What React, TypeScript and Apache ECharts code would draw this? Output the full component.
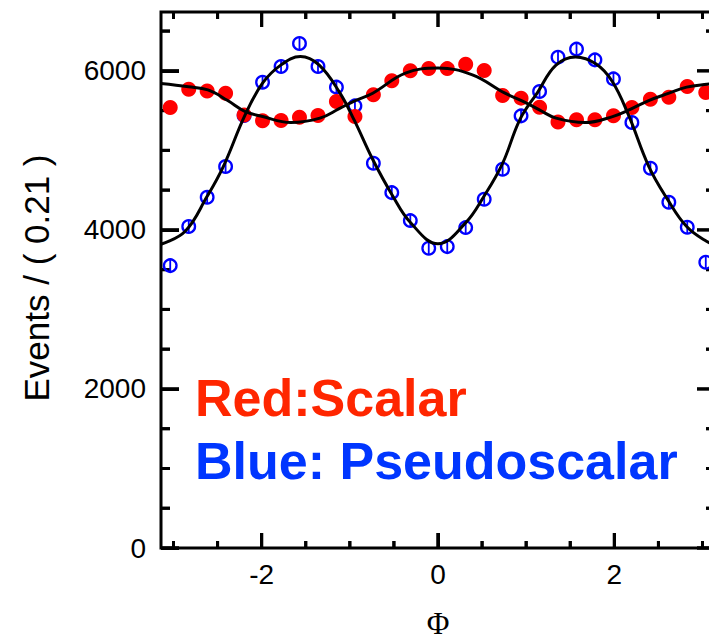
import React, { useEffect, useRef } from "react";
import * as echarts from "echarts";

// Bin centres (30 bins of width 0.21 over [-pi, pi])
const phiBins = [
  -3.037, -2.827, -2.618, -2.409, -2.199, -1.99, -1.78, -1.571, -1.361, -1.152,
  -0.942, -0.733, -0.524, -0.314, -0.105, 0.105, 0.314, 0.524, 0.733, 0.942,
  1.152, 1.361, 1.571, 1.78, 1.99, 2.199, 2.409, 2.618, 2.827, 3.037,
];

// Red: scalar
const scalarCounts = [
  5538, 5769, 5748, 5719, 5446, 5371, 5375, 5417, 5438, 5614,
  5425, 5698, 5874, 6000, 6030, 6028, 6084, 6004, 5690, 5657,
  5543, 5358, 5384, 5384, 5434, 5538, 5644, 5669, 5803, 5727,
];

// Blue: pseudoscalar
const pseudoCounts = [
  3551, 4042, 4411, 4797, 5438, 5857, 6055, 6344, 6055, 5795,
  5560, 4839, 4469, 4117, 3770, 3790, 4029, 4386, 4763, 5434,
  5740, 6172, 6273, 6138, 5899, 5350, 4775, 4348, 4034, 3594,
];

const binError = 75;

// Fit curves
const scalarFitPhi = [
  -3.1416, -2.83, -2.61, -2.39, -2.19, -1.99, -1.67, -1.34, -1.12, -0.95, -0.74,
  -0.37, 0, 0.39, 0.76, 0.97, 1.15, 1.34, 1.67, 1.98, 2.16, 2.39, 2.62, 2.82, 3.05, 3.1416,
];
const scalarFitVal = [
  5840, 5800, 5760, 5630, 5490, 5425, 5350, 5405, 5525, 5620, 5719,
  5971, 6035, 5950, 5719, 5614, 5509, 5405, 5350, 5425, 5505, 5627, 5719, 5795, 5832, 5840,
];

const pseudoFitPhi = [
  -3.1416, -2.87, -2.62, -2.435, -2.19, -1.99, -1.78, -1.56, -1.35, -1.12, -0.95,
  -0.74, -0.52, -0.31, 0, 0.31, 0.52, 0.73, 0.93, 1.13, 1.335, 1.56, 1.79, 1.975,
  2.16, 2.39, 2.6, 2.82, 3.05, 3.1416,
];
const pseudoFitVal = [
  3820, 3979, 4419, 4797, 5440, 5845, 6075, 6180, 6075, 5735, 5380,
  4885, 4440, 4090, 3825, 4085, 4420, 4830, 5390, 5730, 6070, 6175, 6090, 5870,
  5446, 4800, 4390, 4042, 3853, 3820,
];

const xMajorTicks = [-2, 0, 2];
const xMinorTicks = [-3, -2.5, -1.5, -1, -0.5, 0.5, 1, 1.5, 2.5, 3];
const yMajorTicks = [0, 2000, 4000, 6000];
const yMinorTicks = [500, 1000, 1500, 2500, 3000, 3500, 4500, 5000, 5500, 6500];

const X_MIN = -Math.PI;
const X_MAX = Math.PI;
const Y_MIN = 0;
const Y_MAX = 6740;

const FONT = "Liberation Sans, Arial, Helvetica, sans-serif";

// Inward tick marks (bottom+top for x values, left+right for y values)
function tickSeries(values: number[], dir: string, len: number) {
  return {
    type: "custom",
    data: values.map((v) => (dir === "x" ? [v, Y_MIN] : [X_MIN, v])),
    renderItem: (_p: any, api: any) => {
      if (dir === "x") {
        const v = api.value(0);
        const b = api.coord([v, Y_MIN]);
        const t = api.coord([v, Y_MAX]);
        return {
          type: "group",
          children: [
            { type: "line", shape: { x1: b[0], y1: b[1], x2: b[0], y2: b[1] - len }, style: { stroke: "#000", lineWidth: 3 } },
            { type: "line", shape: { x1: t[0], y1: t[1], x2: t[0], y2: t[1] + len }, style: { stroke: "#000", lineWidth: 3 } },
          ],
        };
      }
      const v = api.value(1);
      const l = api.coord([X_MIN, v]);
      const r = api.coord([X_MAX, v]);
      return {
        type: "group",
        children: [
          { type: "line", shape: { x1: l[0], y1: l[1], x2: l[0] + len, y2: l[1] }, style: { stroke: "#000", lineWidth: 3 } },
          { type: "line", shape: { x1: r[0], y1: r[1], x2: r[0] - len, y2: r[1] }, style: { stroke: "#000", lineWidth: 3 } },
        ],
      };
    },
  };
}

const textGraphics: any[] = [
  {
    type: "text",
    x: 36,
    y: 278,
    rotation: Math.PI / 2,
    style: { text: "Events / ( 0.21 )", fontSize: 35, fontFamily: FONT, fill: "#000", align: "center", verticalAlign: "middle" },
  },
  {
    type: "text",
    x: 438,
    y: 623,
    style: { text: "Φ", fontSize: 31, fontFamily: "Liberation Serif, DejaVu Serif, serif", fill: "#000", align: "center", verticalAlign: "middle" },
  },
  {
    type: "text",
    x: 195,
    y: 398,
    style: { text: "Red:Scalar", fontSize: 52, fontWeight: "bold", fontFamily: FONT, fill: "#ff2600", align: "left", verticalAlign: "middle" },
  },
  {
    type: "text",
    x: 195,
    y: 461,
    style: { text: "Blue: Pseudoscalar", fontSize: 52, fontWeight: "bold", fontFamily: FONT, fill: "#0036ff", align: "left", verticalAlign: "middle" },
  },
];

export default function App() {
  const ref = useRef<HTMLDivElement>(null);

  useEffect(() => {
    document.body.style.margin = "0";
    if (!ref.current) return;
    const chart = echarts.init(ref.current, undefined, { renderer: "svg" });

    chart.setOption({
      animation: false,
      grid: {
        left: 161,
        top: 12,
        width: 554,
        height: 536,
        outerBoundsMode: "none",
        show: true,
        borderColor: "#000",
        borderWidth: 3,
      },
      xAxis: {
        type: "value",
        min: X_MIN,
        max: X_MAX,
        axisLine: { show: false, onZero: false },
        axisTick: { show: true, inside: true, length: 15, customValues: xMajorTicks, lineStyle: { color: "#000", width: 3 } },
        axisLabel: { customValues: xMajorTicks, margin: 12, color: "#000", fontSize: 28, fontFamily: FONT, formatter: (v: number) => String(v) },
        splitLine: { show: false },
      },
      yAxis: {
        type: "value",
        min: Y_MIN,
        max: Y_MAX,
        axisLine: { show: false, onZero: false },
        axisTick: { show: true, inside: true, length: 18, customValues: yMajorTicks, lineStyle: { color: "#000", width: 3 } },
        axisLabel: { customValues: yMajorTicks, margin: 15, color: "#000", fontSize: 28, fontFamily: FONT, formatter: (v: number) => String(v) },
        splitLine: { show: false },
      },
      series: [
        tickSeries(xMajorTicks, "x", 15),
        tickSeries(xMinorTicks, "x", 7),
        tickSeries(yMajorTicks, "y", 18),
        tickSeries(yMinorTicks, "y", 9),
        {
          name: "Scalar",
          type: "scatter",
          symbol: "circle",
          symbolSize: 15,
          itemStyle: { color: "#ff0000", opacity: 1 },
          data: phiBins.map((p, i) => [p, scalarCounts[i]]),
        },
        {
          name: "Pseudoscalar",
          type: "custom",
          data: phiBins.map((p, i) => [p, pseudoCounts[i]]),
          renderItem: (_params: any, api: any) => {
            const x = api.value(0);
            const y = api.value(1);
            const c = api.coord([x, y]);
            const t = api.coord([x, y + binError]);
            const b = api.coord([x, y - binError]);
            return {
              type: "group",
              children: [
                { type: "line", shape: { x1: c[0], y1: t[1], x2: c[0], y2: b[1] }, style: { stroke: "#0000ff", lineWidth: 1.8 } },
                { type: "circle", shape: { cx: c[0], cy: c[1], r: 6.3 }, style: { fill: "none", stroke: "#0000ff", lineWidth: 2.3 } },
              ],
            };
          },
        },
        {
          name: "Scalar fit",
          type: "line",
          showSymbol: false,
          smooth: 0.4,
          lineStyle: { color: "#000", width: 3 },
          data: scalarFitPhi.map((p, i) => [p, scalarFitVal[i]]),
        },
        {
          name: "Pseudoscalar fit",
          type: "line",
          showSymbol: false,
          smooth: 0.4,
          lineStyle: { color: "#000", width: 3 },
          data: pseudoFitPhi.map((p, i) => [p, pseudoFitVal[i]]),
        },
      ],
      graphic: textGraphics,
    } as any);

    // Extra safety: tick marks as graphic lines positioned through the scales
    const els: any[] = [];
    try {
      const finder: any = { xAxisIndex: 0, yAxisIndex: 0 };
      const px = (d: number[]) => chart.convertToPixel(finder, d) as number[];
      const addX = (vals: number[], len: number) =>
        vals.forEach((v) => {
          const b = px([v, Y_MIN]);
          const t = px([v, Y_MAX]);
          els.push({ type: "line", shape: { x1: b[0], y1: b[1], x2: b[0], y2: b[1] - len }, style: { stroke: "#000", lineWidth: 3 } });
          els.push({ type: "line", shape: { x1: t[0], y1: t[1], x2: t[0], y2: t[1] + len }, style: { stroke: "#000", lineWidth: 3 } });
        });
      const addY = (vals: number[], len: number) =>
        vals.forEach((v) => {
          const l = px([X_MIN, v]);
          const r = px([X_MAX, v]);
          els.push({ type: "line", shape: { x1: l[0], y1: l[1], x2: l[0] + len, y2: l[1] }, style: { stroke: "#000", lineWidth: 3 } });
          els.push({ type: "line", shape: { x1: r[0], y1: r[1], x2: r[0] - len, y2: r[1] }, style: { stroke: "#000", lineWidth: 3 } });
        });
      addX(xMajorTicks, 15);
      addX(xMinorTicks, 7);
      addY(yMajorTicks, 18);
      addY(yMinorTicks, 9);
      chart.setOption({ graphic: [...textGraphics, ...els] });
    } catch (e) {
      // keep the chart as drawn
    }

    return () => chart.dispose();
  }, []);

  return <div ref={ref} style={{ width: 709, height: 640, overflow: "hidden", background: "#fff" }} />;
}
